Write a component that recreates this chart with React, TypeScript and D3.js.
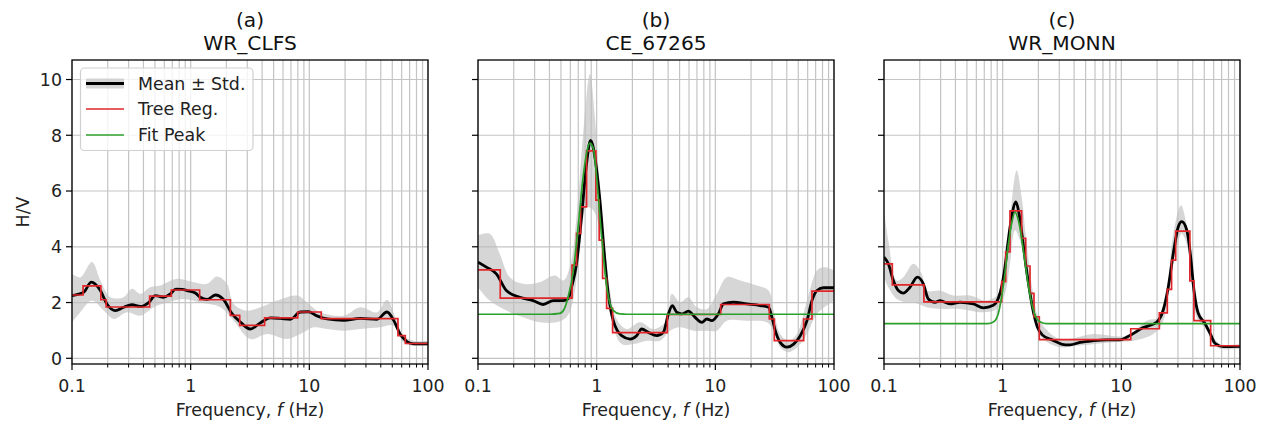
import React from "react";
import * as d3 from "d3";

type P = [number, number];

// ---------- Panel (a) WR_CLFS ----------
const meanA: P[] = [[0.1,2.25],[0.1254,2.37],[0.1455,2.73],[0.1733,2.43],[0.197,1.95],[0.232,1.71],[0.2725,1.83],[0.32,1.92],[0.3765,1.86],[0.4426,2.0],[0.5038,2.25],[0.592,2.19],[0.674,2.31],[0.75,2.48],[0.85,2.47],[0.931,2.43],[1.095,2.34],[1.206,2.19],[1.373,2.11],[1.614,2.27],[1.897,2.1],[2.23,1.6],[2.62,1.3],[3.18,1.05],[3.865,1.27],[4.69,1.45],[5.7,1.43],[6.92,1.4],[8.4,1.66],[9.87,1.67],[11.6,1.52],[14.1,1.41],[19.5,1.36],[26.9,1.43],[37.2,1.4],[45.1,1.66],[51.4,1.36],[58.5,0.85],[66.5,0.6],[75.7,0.52],[100,0.52]];
const upperA: P[] = [[0.1,3.03],[0.1175,2.9],[0.1475,3.45],[0.1733,2.79],[0.2104,2.19],[0.2725,2.19],[0.32,2.49],[0.3765,2.31],[0.457,2.55],[0.555,2.61],[0.767,2.85],[1.06,2.73],[1.373,2.67],[1.667,2.93],[2.025,2.67],[2.3,1.95],[2.98,1.71],[3.865,1.83],[5.34,2.07],[7.87,2.25],[9.87,1.95],[12.4,1.65],[19.5,1.53],[26.9,1.83],[37.2,1.65],[45.1,2.1],[53.0,1.47],[62.4,0.81],[75.7,0.63],[100,0.63]];
const lowerA: P[] = [[0.1,1.29],[0.1175,1.65],[0.1475,2.07],[0.185,1.71],[0.2245,1.41],[0.2906,1.65],[0.3765,1.53],[0.488,1.83],[0.632,2.0],[0.873,2.13],[1.206,2.0],[1.778,1.83],[2.3,1.35],[3.18,0.69],[4.4,0.87],[6.48,0.69],[8.4,0.87],[10.9,1.11],[14.1,1.05],[19.5,0.99],[26.9,1.05],[39.7,1.11],[51.4,1.17],[62.4,0.57],[75.7,0.45],[100,0.45]];
const treeEdgesA = [0.1,0.124,0.175,0.194,0.451,0.687,1.19,2.16,2.59,4.2,7.98,12.6,55.8,64.4,100];
const treeValsA = [2.27,2.6,2.1,1.84,2.23,2.45,2.1,1.54,1.18,1.45,1.66,1.42,0.81,0.53];

// ---------- Panel (b) CE_67265 ----------
const meanB: P[] = [[0.1,3.45],[0.1176,3.27],[0.1428,3.03],[0.1734,2.43],[0.2248,2.19],[0.2913,2.07],[0.3538,1.93],[0.4298,2.07],[0.522,2.07],[0.5754,2.13],[0.614,2.55],[0.6766,3.39],[0.7456,5.07],[0.8216,6.98],[0.889,7.82],[0.966,7.22],[1.065,5.66],[1.173,3.51],[1.252,2.31],[1.38,1.35],[1.623,0.81],[1.909,0.69],[2.172,0.81],[2.394,1.05],[2.725,0.93],[3.205,0.81],[3.648,0.93],[4.022,1.59],[4.345,1.89],[4.727,1.65],[5.21,1.59],[5.93,1.69],[6.75,1.47],[7.69,1.29],[8.47,1.41],[9.33,1.35],[10.6,1.59],[11.7,1.95],[14.2,2.01],[18.4,1.95],[23.9,1.89],[28.1,1.83],[30.0,1.47],[32.0,0.99],[35.2,0.57],[40.1,0.4],[45.7,0.51],[52.0,0.81],[59.2,1.35],[65.2,2.07],[71.9,2.43],[81.8,2.53],[100,2.53]];
const upperB: P[] = [[0.1,4.41],[0.1255,4.47],[0.1524,3.75],[0.185,2.91],[0.24,2.67],[0.3317,2.73],[0.4439,2.97],[0.522,2.79],[0.5943,3.27],[0.6766,5.07],[0.77,8.06],[0.8768,10.2],[0.966,8.66],[1.065,6.02],[1.173,3.99],[1.293,2.43],[1.472,1.41],[1.789,1.05],[2.317,1.29],[3.003,1.05],[3.892,1.35],[4.29,2.31],[5.045,2.01],[5.93,2.19],[6.975,1.83],[8.47,1.77],[10.3,2.31],[12.5,2.91],[16.2,2.79],[22.4,2.61],[28.1,2.43],[31.0,1.71],[35.2,0.87],[41.5,0.63],[48.7,0.87],[59.2,2.07],[71.9,3.15],[81.8,3.27],[100,3.15]];
const lowerB: P[] = [[0.1,2.55],[0.1255,2.07],[0.1734,1.71],[0.24,1.47],[0.3317,1.29],[0.4586,1.29],[0.5568,1.47],[0.634,2.07],[0.722,3.99],[0.8216,5.43],[0.906,5.37],[0.998,5.07],[1.1,4.11],[1.212,2.55],[1.336,1.35],[1.623,0.51],[2.036,0.51],[2.638,0.63],[3.42,0.63],[4.153,0.99],[5.045,1.11],[6.54,0.99],[8.47,0.99],[10.3,0.99],[12.5,1.35],[18.4,1.35],[27.2,1.29],[31.0,0.99],[35.2,0.4],[41.5,0.22],[50.3,0.45],[59.2,0.87],[71.9,1.59],[100,2.07]];
const treeEdgesB = [0.1,0.154,0.62,0.677,0.732,0.822,0.985,1.05,1.122,1.213,1.363,3.94,11.1,28.5,31.4,55.5,65.2,100];
const treeValsB = [3.17,2.16,3.34,4.48,5.43,7.44,5.67,4.24,2.87,1.79,0.92,1.57,1.93,1.41,0.63,1.41,2.41];
const fitB: P[] = [[0.1,1.58],[0.4,1.58],[0.489,1.61],[0.53,1.75],[0.575,2.2],[0.634,3.1],[0.698,4.72],[0.769,6.51],[0.83,7.45],[0.877,7.72],[0.935,7.53],[0.999,6.51],[1.065,5.08],[1.135,3.76],[1.213,2.6],[1.293,1.97],[1.379,1.72],[1.57,1.59],[1.8,1.58],[100,1.58]];

// ---------- Panel (c) WR_MONN ----------
const meanC: P[] = [[0.1,3.63],[0.1088,3.39],[0.1199,2.79],[0.132,2.43],[0.1455,2.34],[0.1656,2.55],[0.191,2.91],[0.2145,2.67],[0.2363,2.13],[0.269,2.01],[0.2963,2.07],[0.36,1.95],[0.437,2.01],[0.566,1.95],[0.6874,1.81],[0.834,1.9],[0.919,2.15],[0.981,2.57],[1.046,3.28],[1.115,4.24],[1.191,5.08],[1.295,5.61],[1.372,5.2],[1.463,4.36],[1.561,3.4],[1.665,2.57],[1.8,1.73],[1.957,1.13],[2.156,0.84],[2.617,0.66],[3.39,0.48],[3.69,0.48],[4.48,0.57],[5.81,0.63],[7.52,0.66],[9.75,0.66],[11.8,0.82],[15.3,1.1],[19.9,1.3],[22.6,1.75],[24.9,2.57],[27.4,3.76],[30.2,4.72],[32.3,4.9],[35.6,4.6],[38.4,3.64],[40.9,2.45],[44.5,1.61],[50.7,1.25],[55.9,0.9],[61.5,0.54],[72.3,0.42],[100,0.43]];
const upperC: P[] = [[0.1,5.31],[0.1088,4.23],[0.1279,2.79],[0.1455,2.91],[0.1767,3.39],[0.2077,3.03],[0.2289,2.43],[0.2963,2.43],[0.384,2.25],[0.5305,2.25],[0.7329,2.07],[0.9495,2.37],[1.046,3.27],[1.153,5.07],[1.312,6.74],[1.446,5.78],[1.593,4.11],[1.813,2.31],[2.063,1.35],[3.042,0.69],[5.81,0.87],[11.1,0.81],[16.35,1.35],[21.2,1.47],[24.1,2.31],[27.4,4.47],[31.8,5.49],[34.4,5.07],[37.9,3.75],[41.8,2.07],[49.1,1.41],[57.7,0.87],[67.9,0.51],[100,0.51]];
const lowerC: P[] = [[0.1,2.91],[0.1088,2.55],[0.1279,2.13],[0.1552,2.01],[0.1767,2.01],[0.2289,1.83],[0.3162,1.77],[0.437,1.77],[0.6874,1.65],[0.89,1.77],[1.046,2.31],[1.153,3.39],[1.27,4.59],[1.4,4.23],[1.593,2.91],[1.813,1.71],[2.132,0.75],[3.042,0.4],[4.203,0.45],[8.03,0.57],[12.6,0.63],[18.6,0.87],[22.6,1.35],[25.7,2.67],[29.3,3.99],[32.2,4.47],[35.5,4.11],[39.1,2.67],[43.1,1.47],[52.4,0.99],[59.6,0.51],[67.9,0.34],[100,0.34]];
const treeEdgesC = [0.1,0.1175,0.217,0.981,1.06,1.153,1.445,1.563,1.7,1.836,2.036,12.0,20.9,24.4,26.5,28.7,37.8,40.9,56.6,100];
const treeValsC = [3.39,2.63,2.02,2.75,3.82,5.29,4.3,3.31,2.33,1.49,0.67,1.06,1.63,2.47,3.52,4.56,2.78,1.35,0.45];
const fitC: P[] = [[0.1,1.24],[0.75,1.24],[0.834,1.3],[0.919,1.61],[0.981,2.21],[1.046,3.05],[1.115,4.06],[1.191,4.84],[1.27,5.24],[1.354,4.96],[1.445,4.3],[1.542,3.46],[1.644,2.63],[1.756,1.97],[1.873,1.55],[2.063,1.31],[2.35,1.24],[100,1.24]];

// ---------- Axes / labels ----------
const panelLetters = ["(a)", "(b)", "(c)"];
const stationNames = ["WR_CLFS", "CE_67265", "WR_MONN"];
const xMajorTicks = [0.1, 1, 10, 100];
const xMajorLabels = ["0.1", "1", "10", "100"];
const yTicks = [0, 2, 4, 6, 8, 10];
const legendLabels = ["Mean \u00b1 Std.", "Tree Reg.", "Fit Peak"];

const FONT = "DejaVu Sans, Verdana, sans-serif";
const FS = 17.4;
const TFS = 20.2;
const RED = "#e0262a";
const GREEN = "#2ca02c";
const GRID = "#c4c4c4";

const panelLefts = [72, 478, 884];
const PW = 356;
const TOP = 60;
const BOTTOM = 364;

const panels = [
  { mean: meanA, upper: upperA, lower: lowerA, edges: treeEdgesA, vals: treeValsA, fit: null as P[] | null },
  { mean: meanB, upper: upperB, lower: lowerB, edges: treeEdgesB, vals: treeValsB, fit: fitB },
  { mean: meanC, upper: upperC, lower: lowerC, edges: treeEdgesC, vals: treeValsC, fit: fitC },
];

function Panel({ idx }: { idx: number }) {
  const p = panels[idx];
  const left = panelLefts[idx];
  const x = d3.scaleLog().domain([0.1, 100]).range([left, left + PW]);
  const y = d3.scaleLinear().domain([-0.205, 10.7]).range([BOTTOM, TOP]);
  const smooth = d3.line<P>().x(d => x(d[0])).y(d => y(d[1])).curve(d3.curveCatmullRom.alpha(0.5));
  const straight = d3.line<P>().x(d => x(d[0])).y(d => y(d[1])).curve(d3.curveMonotoneX);
  const band = smooth(p.upper)! + "L" + smooth([...p.lower].reverse())!.slice(1) + "Z";
  const treePts: P[] = p.vals.map((v, i) => [p.edges[i], v] as P);
  treePts.push([p.edges[p.edges.length - 1], p.vals[p.vals.length - 1]]);
  const step = d3.line<P>().x(d => x(d[0])).y(d => y(d[1])).curve(d3.curveStepAfter);
  const allTicks = x.ticks();
  const minor = allTicks.filter(t => !xMajorTicks.some(m => Math.abs(m - t) / m < 1e-6));
  const cx = left + PW / 2;
  const clipId = `clip${idx}`;
  return (
    <g>
      <defs>
        <clipPath id={clipId}>
          <rect x={left} y={TOP} width={PW} height={BOTTOM - TOP} />
        </clipPath>
      </defs>
      {allTicks.map((t, i) => (
        <line key={"gx" + i} x1={x(t)} x2={x(t)} y1={TOP} y2={BOTTOM} stroke={GRID} strokeWidth={1.2} />
      ))}
      {yTicks.map(t => (
        <line key={"gy" + t} x1={left} x2={left + PW} y1={y(t)} y2={y(t)} stroke={GRID} strokeWidth={1.2} />
      ))}
      <g clipPath={`url(#${clipId})`}>
        <path d={band} fill="#bdbdbd" fillOpacity={0.62} stroke="none" />
        <path d={straight(p.mean)!} fill="none" stroke="#000" strokeWidth={2.8} strokeLinejoin="round" />
        <path d={step(treePts)!} fill="none" stroke={RED} strokeWidth={1.7} />
        {p.fit && <path d={straight(p.fit)!} fill="none" stroke={GREEN} strokeWidth={1.7} />}
      </g>
      <rect x={left} y={TOP} width={PW} height={BOTTOM - TOP} fill="none" stroke="#000" strokeWidth={1.3} />
      {xMajorTicks.map((t, i) => (
        <g key={"xt" + i}>
          <line x1={x(t)} x2={x(t)} y1={BOTTOM} y2={BOTTOM + 6} stroke="#000" strokeWidth={1.2} />
          <text x={x(t)} y={392} textAnchor="middle" fontSize={FS} fontFamily={FONT} fill="#222">{xMajorLabels[i]}</text>
        </g>
      ))}
      {minor.map((t, i) => (
        <line key={"xm" + i} x1={x(t)} x2={x(t)} y1={BOTTOM} y2={BOTTOM + 3.5} stroke="#000" strokeWidth={1} />
      ))}
      {yTicks.map(t => (
        <g key={"yt" + t}>
          <line x1={left - 6} x2={left} y1={y(t)} y2={y(t)} stroke="#000" strokeWidth={1.2} />
          {idx === 0 && (
            <text x={left - 10} y={y(t)} dy="0.36em" textAnchor="end" fontSize={FS} fontFamily={FONT} fill="#222">{t}</text>
          )}
        </g>
      ))}
      <text x={cx} y={26.5} textAnchor="middle" fontSize={TFS} fontFamily={FONT} fill="#111">{panelLetters[idx]}</text>
      <text x={cx} y={49.5} textAnchor="middle" fontSize={TFS} fontFamily={FONT} fill="#111">{stationNames[idx]}</text>
      <text x={cx} y={415.5} textAnchor="middle" fontSize={FS} fontFamily={FONT} fill="#222">
        Frequency, <tspan fontStyle="italic">f</tspan> (Hz)
      </text>
    </g>
  );
}

function Legend() {
  const lx = 80.5, ly = 68, lw = 172.5, lh = 82.5;
  const rows = [83.5, 109, 135];
  return (
    <g>
      <rect x={lx} y={ly} width={lw} height={lh} rx={4} fill="#fff" fillOpacity={0.8} stroke="#d0d0d0" strokeWidth={1.2} />
      <rect x={86} y={rows[0] - 5} width={38} height={10} fill="#bdbdbd" fillOpacity={0.62} />
      <line x1={86} x2={124} y1={rows[0]} y2={rows[0]} stroke="#000" strokeWidth={2.8} />
      <line x1={86} x2={124} y1={rows[1]} y2={rows[1]} stroke={RED} strokeWidth={1.7} />
      <line x1={86} x2={124} y1={rows[2]} y2={rows[2]} stroke={GREEN} strokeWidth={1.7} />
      {legendLabels.map((l, i) => (
        <text key={l} x={138} y={rows[i]} dy="0.36em" fontSize={FS} fontFamily={FONT} fill="#222">{l}</text>
      ))}
    </g>
  );
}

export default function App() {
  return (
    <svg width={1265} height={424} style={{ position: "absolute", left: 0, top: 0, background: "#fff" }}>
      <rect x={0} y={0} width={1265} height={424} fill="#fff" />
      {[0, 1, 2].map(i => <Panel key={i} idx={i} />)}
      <Legend />
      <text transform="translate(29,212) rotate(-90)" textAnchor="middle" fontSize={FS} fontFamily={FONT} fill="#222">H/V</text>
    </svg>
  );
}
